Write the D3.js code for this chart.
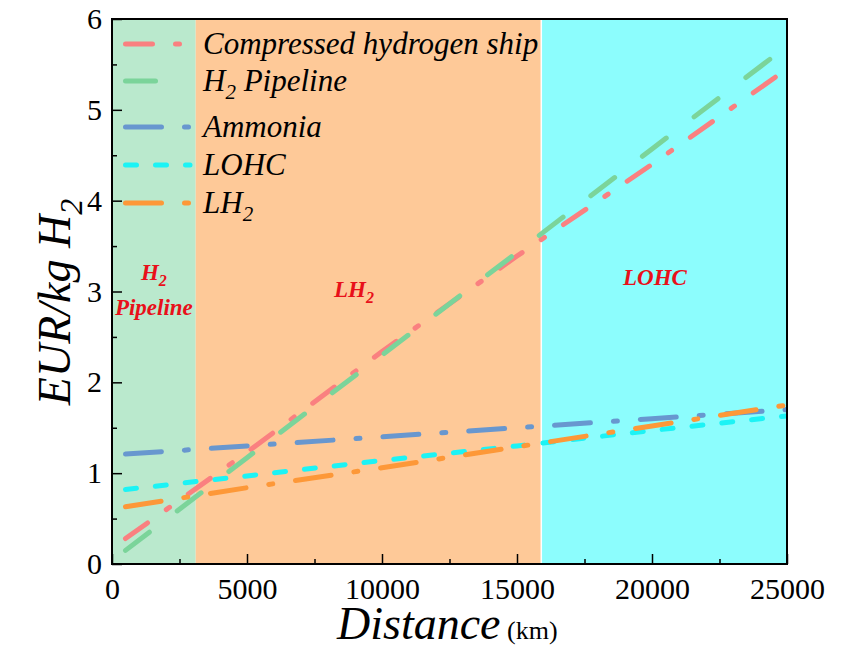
<!DOCTYPE html>
<html>
<head>
<meta charset="utf-8">
<script src="https://cdn.jsdelivr.net/npm/d3@7"></script>
<style>
  body { margin: 0; background: #fff; }
  text { font-family: "Liberation Serif", "Times New Roman", serif; }
</style>
</head>
<body>
<script>
// data
const distances = [500, 5000, 10000, 15000, 20000, 25000];
const shipCost = [0.28, 1.23, 2.34, 3.39, 4.40, 5.45];
const pipelineCost = [0.15, 1.17, 2.30, 3.43, 4.57, 5.70];
const ammoniaCost = [1.21, 1.30, 1.40, 1.50, 1.60, 1.70];
const lohcCost = [0.82, 0.97, 1.14, 1.30, 1.47, 1.63];
const lh2Cost = [0.63, 0.84, 1.06, 1.29, 1.52, 1.75];

const seriesNames = ["Compressed hydrogen ship", "H2 Pipeline", "Ammonia", "LOHC", "LH2"];

// cheapest option per distance band
const regionStarts = [0, 3100, 15900];
const regionEnds = [3100, 15900, 25000];

const xTicks = [0, 5000, 10000, 15000, 20000, 25000];
const yTicks = [0, 1, 2, 3, 4, 5, 6];

//////////////////////////////////////////////////

const W = 850, H = 648;
const margin = { top: 19, right: 63, bottom: 84, left: 112 };
const width = W - margin.left - margin.right;
const height = H - margin.top - margin.bottom;

const xScale = d3.scaleLinear().domain([0, 25000]).range([0, width]);
const yScale = d3.scaleLinear().domain([0, 6]).range([height, 0]);

const svg = d3.select('body').append('svg')
    .attr('width', W)
    .attr('height', H);

const g = svg.append('g')
    .attr('transform', 'translate(' + margin.left + ',' + margin.top + ')');

// background bands
const bandColors = ['#bae9cd', '#fec998', '#8cfdfd'];
g.selectAll('rect.band')
  .data(regionStarts)
  .enter().append('rect')
    .attr('class', 'band')
    .attr('x', d => xScale(d))
    .attr('y', 0)
    .attr('width', (d, i) => xScale(regionEnds[i]) - xScale(d))
    .attr('height', height)
    .attr('fill', (d, i) => bandColors[i]);

// thin white separator before the LOHC band
g.append('line')
    .attr('x1', xScale(regionStarts[2])).attr('x2', xScale(regionStarts[2]))
    .attr('y1', 0).attr('y2', height)
    .attr('stroke', '#fff').attr('stroke-width', 1.5);

// region labels
const regionLabel = g.append('g')
    .attr('fill', '#e8101a')
    .style('font-weight', 'bold')
    .style('font-style', 'italic')
    .style('font-size', '23px')
    .attr('text-anchor', 'middle');

const midX = i => (xScale(regionStarts[i]) + xScale(regionEnds[i])) / 2;

let t = regionLabel.append('text').attr('x', midX(0)).attr('y', 280 - margin.top);
t.append('tspan').text('H');
t.append('tspan').text('2').attr('dy', 6).style('font-size', '16px');
regionLabel.append('text').attr('x', midX(0)).attr('y', 315 - margin.top).text('Pipeline');

t = regionLabel.append('text').attr('x', 354 - margin.left).attr('y', 297 - margin.top);
t.append('tspan').text('LH');
t.append('tspan').text('2').attr('dy', 6).style('font-size', '16px');
regionLabel.append('text').attr('x', 655 - margin.left).attr('y', 285 - margin.top).text('LOHC');

// series
const series = [
  { name: seriesNames[0], values: shipCost, color: '#fa8080', dash: '27 23 4 23' },
  { name: seriesNames[1], values: pipelineCost, color: '#7bd49a', dash: '30 35' },
  { name: seriesNames[2], values: ammoniaCost, color: '#6897cf', dash: '36 23 4 23' },
  { name: seriesNames[3], values: lohcCost, color: '#1cf3f5', dash: '11 19' },
  { name: seriesNames[4], values: lh2Cost, color: '#fd9838', dash: '36 23 4 23' }
];

const line = d3.line()
  .x((d, i) => xScale(distances[i]))
  .y(d => yScale(d));

g.append('clipPath').attr('id', 'clip')
  .append('rect').attr('width', width).attr('height', height);

g.append('g').attr('clip-path', 'url(#clip)')
  .selectAll('path.series')
  .data(series)
  .enter().append('path')
    .attr('class', 'series')
    .attr('d', d => line(d.values))
    .attr('fill', 'none')
    .attr('stroke', d => d.color)
    .attr('stroke-width', 5)
    .attr('stroke-linecap', 'round')
    .attr('stroke-dasharray', d => d.dash);

// axes
const xAxis = d3.axisBottom(xScale)
    .tickValues(xTicks)
    .tickSizeInner(-10)
    .tickSizeOuter(0)
    .tickPadding(14)
    .tickFormat(d3.format('d'));

const xMinor = d3.axisBottom(xScale)
    .tickValues([2500, 7500, 12500, 17500, 22500])
    .tickSizeInner(-5)
    .tickSizeOuter(0)
    .tickFormat('');

const yAxis = d3.axisLeft(yScale)
    .tickValues(yTicks)
    .tickSizeInner(-10)
    .tickSizeOuter(0)
    .tickPadding(10)
    .tickFormat(d3.format('d'));

const yMinor = d3.axisLeft(yScale)
    .tickValues([0.5, 1.5, 2.5, 3.5, 4.5, 5.5])
    .tickSizeInner(-5)
    .tickSizeOuter(0)
    .tickFormat('');

function styleAxis(sel) {
  sel.attr('font-family', null);
  sel.select('.domain').remove();
  sel.selectAll('line').attr('stroke', '#000').attr('stroke-width', 1.5);
  sel.selectAll('text')
    .attr('fill', '#000')
    .style('font-size', '30px');
}

g.append('g').attr('transform', 'translate(0,' + height + ')').call(xAxis).call(styleAxis);
g.append('g').attr('transform', 'translate(0,' + height + ')').call(xMinor).call(styleAxis);
g.append('g').call(yAxis).call(styleAxis);
g.append('g').call(yMinor).call(styleAxis);

// frame
g.append('rect')
    .attr('width', width)
    .attr('height', height)
    .attr('fill', 'none')
    .attr('stroke', '#000')
    .attr('stroke-width', 2);

// legend
const legendY = [44, 81, 127, 165, 203];
const legend = g.append('g');
series.forEach((s, i) => {
  const yy = legendY[i] - margin.top;
  legend.append('line')
      .attr('x1', 125.5 - margin.left).attr('x2', 190 - margin.left)
      .attr('y1', yy).attr('y2', yy)
      .attr('stroke', s.color)
      .attr('stroke-width', 5)
      .attr('stroke-linecap', 'round')
      .attr('stroke-dasharray', s.dash);
  const txt = legend.append('text')
      .attr('x', 203 - margin.left)
      .attr('y', yy + 10)
      .style('font-style', 'italic')
      .style('font-size', '31px')
      .attr('fill', '#000');
  if (s.name === 'H2 Pipeline') {
    txt.append('tspan').text('H');
    txt.append('tspan').text('2').attr('dy', 8).style('font-size', '21px');
    txt.append('tspan').text(' Pipeline').attr('dy', -8);
  } else if (s.name === 'LH2') {
    txt.append('tspan').text('LH');
    txt.append('tspan').text('2').attr('dy', 8).style('font-size', '21px');
  } else {
    txt.text(s.name);
  }
});

// axis titles
const xt = svg.append('text')
    .attr('x', 337)
    .attr('y', 639)
    .attr('fill', '#000');
xt.append('tspan').text('Distance').style('font-style', 'italic').style('font-size', '46px');
xt.append('tspan').text(' (km)').style('font-size', '26px');

const yt = svg.append('text')
    .attr('transform', 'translate(70,' + 302 + ') rotate(-90)')
    .attr('text-anchor', 'middle')
    .attr('fill', '#000')
    .style('font-style', 'italic')
    .style('font-size', '46px');
yt.append('tspan').text('EUR/kg H');
yt.append('tspan').text('2').attr('dy', 12).style('font-size', '32px');
</script>
</body>
</html>
